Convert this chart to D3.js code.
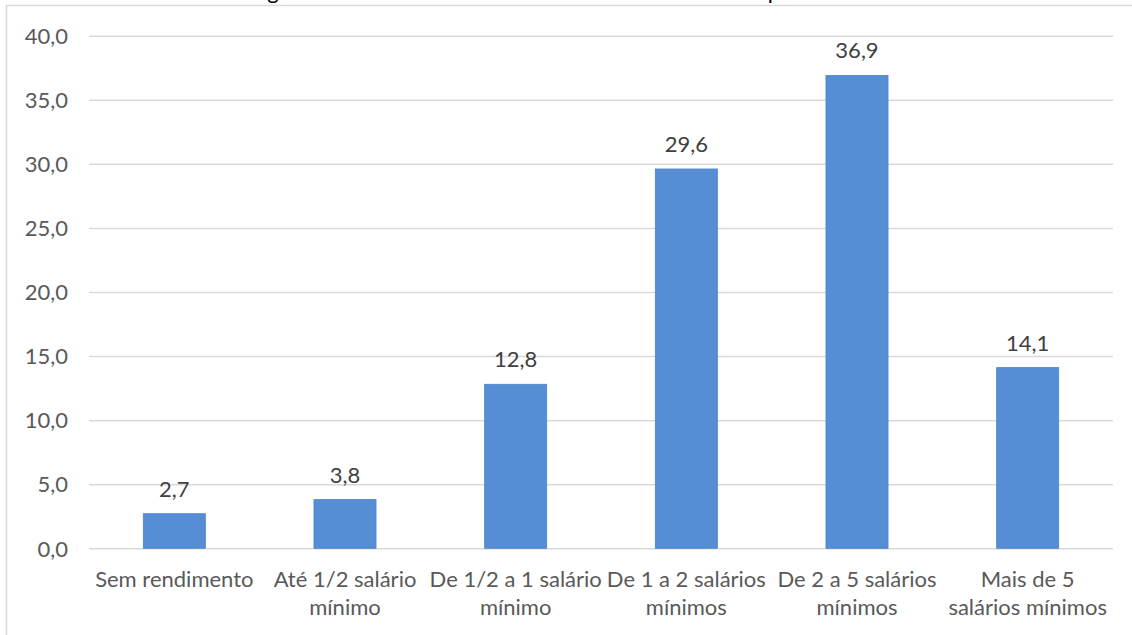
<!DOCTYPE html>
<html>
<head>
<meta charset="utf-8">
<script src="https://cdn.jsdelivr.net/npm/d3@7"></script>
<style>
  html, body { margin: 0; padding: 0; background: #fff; overflow: hidden; }
  svg { display: block; font-family: "Lato", "Open Sans", sans-serif; }
</style>
</head>
<body>
<svg id="chart" width="1132" height="635"></svg>
<script>
const title = "Figura 5 - Rendimento nominal mensal dos domicílios por habitantes";
const categories = [
  "Sem rendimento",
  "Até 1/2 salário\nmínimo",
  "De 1/2 a 1 salário\nmínimo",
  "De 1 a 2 salários\nmínimos",
  "De 2 a 5 salários\nmínimos",
  "Mais de 5\nsalários mínimos"
];
const values = [2.7, 3.8, 12.8, 29.6, 36.9, 14.1];
const yTicks = [0, 5, 10, 15, 20, 25, 30, 35, 40];

const svg = d3.select("#chart");
const W = 1132, H = 635;
const m = { left: 89, right: 1113, top: 35.7, bottom: 548.3 };
const fmt = v => d3.format(".1f")(v).replace(".", ",");
const FS = 22;

// title (cut off at top, as in the reference)
svg.append("text")
  .attr("x", 578).attr("y", -1)
  .attr("text-anchor", "middle")
  .attr("font-size", 22).attr("fill", "#000")
  .text(title);

// outer frame
svg.append("rect")
  .attr("x", 6.5).attr("y", 5.5)
  .attr("width", W + 20).attr("height", H + 20)
  .attr("fill", "none").attr("stroke", "#d9d9d9").attr("stroke-width", 1.5);

const x = d3.scaleBand().domain(categories).range([m.left, m.right]).paddingInner(0.6364).paddingOuter(0.3182);
const y = d3.scaleLinear().domain([0, 40]).range([m.bottom, m.top]);

// y axis with gridlines
const ya = svg.append("g")
  .attr("transform", `translate(${m.left},0)`)
  .call(d3.axisLeft(y).tickValues(yTicks).tickFormat(fmt).tickSize(-(m.right - m.left)).tickPadding(21));
ya.select(".domain").remove();
ya.selectAll(".tick line").attr("stroke", "#d9d9d9").attr("stroke-width", 1.5);
ya.selectAll(".tick text").attr("fill", "#595959").attr("font-size", FS).attr("font-family", "Lato, sans-serif").attr("dy", "0.35em");

// bars
svg.append("g").selectAll("rect")
  .data(values)
  .join("rect")
  .attr("x", (d, i) => x(categories[i]))
  .attr("width", x.bandwidth())
  .attr("y", d => y(d))
  .attr("height", d => y(0) - y(d))
  .attr("fill", "#558ed5")
  .attr("stroke", "#4f84c9").attr("stroke-width", 0.8);

// value labels
svg.append("g").selectAll("text")
  .data(values)
  .join("text")
  .attr("x", (d, i) => x(categories[i]) + x.bandwidth() / 2)
  .attr("y", d => y(d) - 17)
  .attr("text-anchor", "middle")
  .attr("font-size", FS).attr("fill", "#404040")
  .text(d => fmt(d));

// x axis labels
const xa = svg.append("g")
  .attr("transform", `translate(0,${m.bottom})`)
  .call(d3.axisBottom(x).tickSize(0).tickFormat(""));
xa.select(".domain").remove();
xa.selectAll(".tick").each(function(d) {
  const t = d3.select(this).append("text")
    .attr("text-anchor", "middle")
    .attr("fill", "#595959")
    .attr("font-size", FS)
    .attr("font-family", "Lato, sans-serif");
  d.split("\n").forEach((line, i) => {
    t.append("tspan").attr("x", 0).attr("y", 39 + i * 28).text(line);
  });
});
</script>
</body>
</html>
